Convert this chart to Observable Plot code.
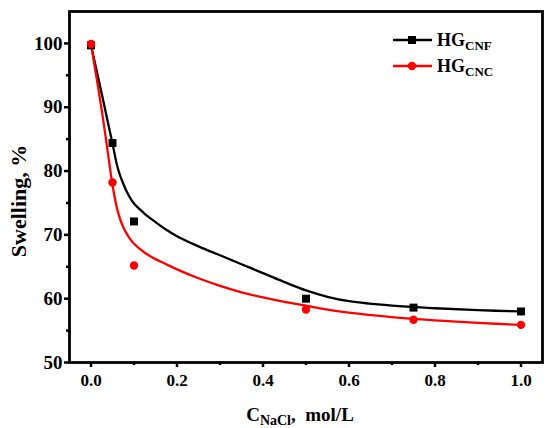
<!DOCTYPE html>
<html><head><meta charset="utf-8">
<script src="https://cdn.jsdelivr.net/npm/d3@7"></script>
<script src="https://cdn.jsdelivr.net/npm/@observablehq/plot@0.6"></script>
<style>
body{margin:0;background:#fff;}
#chart{width:550px;height:428px;}
</style></head><body><div id="chart"></div>
<script>
const FONT = '"Times New Roman","Liberation Serif",serif';

// measured points
const conc = [0, 0.05, 0.1, 0.5, 0.75, 1.0];
const cnf = [99.7, 84.4, 72.1, 60.0, 58.6, 58.0];
const cnc = [99.9, 78.2, 65.2, 58.3, 56.7, 55.9];

// fitted curves
const fitX   = [0, 0.025, 0.04, 0.05, 0.0625, 0.075, 0.0875, 0.1, 0.125, 0.15, 0.175, 0.2, 0.25, 0.3, 0.35, 0.4, 0.45, 0.5, 0.55, 0.6, 0.7, 0.8, 0.9, 1.0];
const cnfFit = [99.7, 92.1, 87.4, 84.3, 80.4, 78.0, 76.2, 74.9, 73.3, 72.0, 70.8, 69.8, 68.2, 66.8, 65.4, 64.0, 62.6, 61.3, 60.3, 59.6, 58.9, 58.5, 58.2, 58.0];
const cncFit = [99.9, 89.5, 82.5, 77.8, 73.6, 71.2, 69.7, 68.6, 67.2, 66.2, 65.4, 64.6, 63.2, 62.0, 61.0, 60.2, 59.5, 58.9, 58.3, 57.8, 57.1, 56.6, 56.2, 55.9];

const xTicks = [0, 0.2, 0.4, 0.6, 0.8, 1.0];
const xMinor = [0.1, 0.3, 0.5, 0.7, 0.9];
const yTicks = [50, 60, 70, 80, 90, 100];
const yMinor = [55, 65, 75, 85, 95];

const seriesNames = ["CNF", "CNC"];
const seriesColors = ["#000000", "#ff0000"];

const rows = (xs, ys) => xs.map((x, i) => ({x, y: ys[i]}));

const plot = Plot.plot({
  width: 550, height: 428,
  marginLeft: 69, marginRight: 8, marginTop: 11, marginBottom: 66,
  x: {domain: [-0.05, 1.05]},
  y: {domain: [50, 105]},
  style: {fontFamily: FONT, fontWeight: "bold", background: "#fff", color: "#000", overflow: "visible"},
  marks: [
    Plot.axisX({ticks: xMinor, tickSize: 3, strokeWidth: 2.5, tickFormat: () => "", label: null}),
    Plot.axisX({ticks: xTicks, tickSize: 5, tickPadding: 6, strokeWidth: 2.5, fontSize: 17, fontWeight: "bold", fontFamily: FONT, tickFormat: d3.format(".1f"), label: null}),
    Plot.axisY({ticks: yMinor, tickSize: 3, strokeWidth: 2.5, tickFormat: () => "", label: null}),
    Plot.axisY({ticks: yTicks, tickSize: 5, tickPadding: 2, strokeWidth: 2.5, fontSize: 19, fontWeight: "bold", fontFamily: FONT, tickFormat: d3.format("d"), label: null}),
    Plot.line(rows(fitX, cnfFit), {x: "x", y: "y", stroke: seriesColors[0], strokeWidth: 2.3, curve: "catmull-rom"}),
    Plot.line(rows(fitX, cncFit), {x: "x", y: "y", stroke: seriesColors[1], strokeWidth: 2.3, curve: "catmull-rom"}),
    Plot.dot(rows(conc, cnf), {x: "x", y: "y", symbol: "square", fill: seriesColors[0], r: 4.5}),
    Plot.dot(rows(conc, cnc), {x: "x", y: "y", symbol: "circle", fill: seriesColors[1], r: 4.2}),
    Plot.frame({stroke: "#000", strokeWidth: 2.8})
  ]
});
document.getElementById("chart").appendChild(plot);

const svg = d3.select(plot);

// y axis label
svg.append("text")
  .attr("transform", "translate(18,201) rotate(-90)")
  .attr("text-anchor", "middle")
  .attr("dy", "0.35em")
  .attr("font-family", FONT).attr("font-weight", "bold").attr("font-size", 22)
  .attr("fill", "#000")
  .text("Swelling, %");

// x axis label
const xl = svg.append("text")
  .attr("x", 300).attr("y", 421)
  .attr("text-anchor", "middle")
  .attr("font-family", FONT).attr("font-weight", "bold").attr("font-size", 19)
  .attr("fill", "#000")
  .style("white-space", "pre");
xl.append("tspan").text("C");
xl.append("tspan").attr("dy", 4).attr("font-size", 14).text("NaCl");
xl.append("tspan").attr("dy", -4).text(",  mol/L");

// legend
const lg = svg.append("g");
seriesNames.forEach((name, i) => {
  const y = 40 + i * 26;
  lg.append("line").attr("x1", 393).attr("x2", 432).attr("y1", y).attr("y2", y)
    .attr("stroke", seriesColors[i]).attr("stroke-width", 2.3);
  if (i === 0) {
    lg.append("rect").attr("x", 412 - 4).attr("y", y - 4).attr("width", 8).attr("height", 8).attr("fill", seriesColors[i]);
  } else {
    lg.append("circle").attr("cx", 412).attr("cy", y).attr("r", 4.2).attr("fill", seriesColors[i]);
  }
  const t = lg.append("text").attr("x", 437).attr("y", y + 6)
    .attr("text-anchor", "start")
    .attr("font-family", FONT).attr("font-weight", "bold").attr("font-size", 18).attr("fill", "#000");
  t.append("tspan").text("HG");
  t.append("tspan").attr("dy", 4).attr("font-size", 13).text(name);
});
</script>
</body></html>
